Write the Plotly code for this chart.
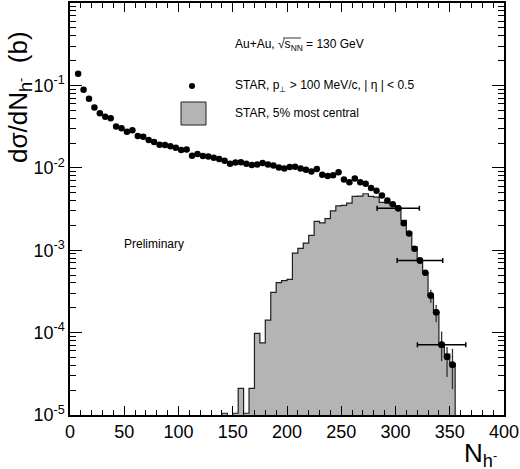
import plotly.graph_objects as go

# ---------------- data ----------------
n_centres = [7.5, 12.5, 17.5, 22.5, 27.5, 32.5, 37.5, 42.5, 47.5, 52.5,
             57.5, 62.5, 67.5, 72.5, 77.5, 82.5, 87.5, 92.5, 97.5, 102.5,
             107.5, 112.5, 117.5, 122.5, 127.5, 132.5, 137.5, 142.5, 147.5, 152.5,
             157.5, 162.5, 167.5, 172.5, 177.5, 182.5, 187.5, 192.5, 197.5, 202.5,
             207.5, 212.5, 217.5, 222.5, 227.5, 232.5, 237.5, 242.5, 247.5, 252.5,
             257.5, 262.5, 267.5, 272.5, 277.5, 282.5, 287.5, 292.5, 297.5, 302.5,
             307.5, 312.5, 317.5, 322.5, 327.5, 332.5, 337.5, 342.5, 347.5, 352.5]
dsig_dn = [0.138, 0.0885, 0.0688, 0.054, 0.046, 0.0416, 0.040, 0.0318, 0.0303, 0.0274,
           0.0285, 0.0243, 0.0238, 0.0217, 0.0205, 0.019, 0.0189, 0.0182, 0.0175, 0.0165,
           0.0167, 0.014, 0.0147, 0.0139, 0.0137, 0.0132, 0.0128, 0.0122, 0.0112, 0.0116,
           0.0117, 0.0112, 0.0108, 0.011, 0.0114, 0.011, 0.0107, 0.0101, 0.00984, 0.0102,
           0.0103, 0.0098, 0.00946, 0.00904, 0.00964, 0.00822, 0.00793, 0.0081, 0.0088, 0.00723,
           0.0067, 0.00743, 0.0067, 0.0064, 0.0057, 0.00526, 0.00462, 0.00402, 0.0036, 0.00324,
           0.00213, 0.0016, 0.00104, 0.00075, 0.000532, 0.000282, 0.000177, 7.1e-5, 5.1e-5, 4.06e-5]

# statistical errors on the tail points
tail_x = [332.5, 337.5, 342.5, 347.5, 352.5]
tail_err_up = [0.48e-4, 0.40e-4, 3.2e-5, 1.6e-5, 2.3e-5]
tail_err_dn = [0.51e-4, 0.43e-4, 2.6e-5, 2.2e-5, 2.0e-5]

# systematic (horizontal) errors
sys_x = [302.5, 322.5, 342.5]
sys_err = [19.5, 21.0, 22.3]

# 5% most central histogram (bin width 5)
hist_left = [140, 145, 150, 155, 160, 165, 170, 175, 180, 185,
             190, 195, 200, 205, 210, 215, 220, 225, 230, 235,
             240, 245, 250, 255, 260, 265, 270, 275, 280, 285,
             290, 295, 300, 305, 310, 315, 320, 325, 330, 335,
             340, 345, 350]
hist_val = [1.05e-5, 0, 1.05e-5, 2.1e-5, 1.05e-5, 2.1e-5, 9.8e-5, 7.5e-5, 1.42e-4, 3.08e-4,
            4.04e-4, 4.27e-4, 4.43e-4, 9.2e-4, 1.05e-3, 1.22e-3, 1.51e-3, 2.24e-3, 2.15e-3, 2.42e-3,
            3.0e-3, 3.45e-3, 3.5e-3, 3.72e-3, 4.5e-3, 4.54e-3, 4.84e-3, 4.5e-3, 4.4e-3, 3.8e-3,
            3.75e-3, 3.55e-3, 3.25e-3, 2.3e-3, 1.66e-3, 1.1e-3, 7.6e-4, 5.3e-4, 2.8e-4, 1.77e-4,
            7.1e-5, 5.5e-5, 4.2e-5]
bin_width = 5

x_ticks = [0, 50, 100, 150, 200, 250, 300, 350, 400]
y_ticks = [1e-5, 1e-4, 1e-3, 1e-2, 1e-1]
y_ticktext = ["10<sup>-5</sup>", "10<sup>-4</sup>", "10<sup>-3</sup>", "10<sup>-2</sup>", "10<sup>-1</sup>"]

# ---------------- figure ----------------
FONT = "Liberation Sans, Arial, Helvetica, sans-serif"
FILL = "#b4b4b4"
W, H = 520, 469
ML, MR, MT, MB = 70, 16, 3, 54
PW, PH = W - ML - MR, H - MT - MB


def px(x):
    return (x - ML) / PW


def py(y):
    return (H - MB - y) / PH


fig = go.Figure()

floor = 1e-7
bar_centres = [l + bin_width / 2 for l in hist_left]
fig.add_trace(go.Bar(
    x=bar_centres, y=[v if v > 0 else floor for v in hist_val],
    width=bin_width, base=floor,
    marker=dict(color=FILL, line=dict(width=0)),
    hoverinfo="skip"))

# step outline
step_x = [hist_left[0]] + hist_left + [hist_left[-1] + bin_width, hist_left[-1] + bin_width]
step_y = [floor] + [v if v > 0 else floor for v in hist_val] + [hist_val[-1], floor]
fig.add_trace(go.Scatter(
    x=step_x, y=step_y, mode="lines",
    line=dict(color="#202020", width=1.2, shape="hv"),
    hoverinfo="skip"))

# data points
fig.add_trace(go.Scatter(
    x=n_centres, y=dsig_dn, mode="markers",
    marker=dict(color="black", size=6.5),
    hoverinfo="skip"))

# tail statistical errors
tail_y = [dsig_dn[n_centres.index(x)] for x in tail_x]
fig.add_trace(go.Scatter(
    x=tail_x, y=tail_y, mode="markers",
    marker=dict(color="black", size=6.5),
    error_y=dict(type="data", symmetric=False, array=tail_err_up, arrayminus=tail_err_dn,
                 color="#303030", thickness=1.3, width=0),
    hoverinfo="skip"))

# systematic horizontal errors
sys_y = [dsig_dn[n_centres.index(x)] for x in sys_x]
fig.add_trace(go.Scatter(
    x=sys_x, y=sys_y, mode="markers",
    marker=dict(color="black", size=6.5),
    error_x=dict(type="data", array=sys_err, color="black", thickness=1.5, width=2.5),
    hoverinfo="skip"))

axis_common = dict(
    showline=True, linecolor="black", linewidth=1.5, mirror="allticks",
    ticks="inside", tickcolor="black", tickwidth=1,
    showgrid=False, zeroline=False, automargin=False,
    tickfont=dict(family=FONT, size=18, color="black"),
)

fig.update_xaxes(
    range=[0, 400], tickmode="array", tickvals=x_ticks, ticklen=9,
    minor=dict(dtick=10, tick0=0, ticks="inside", ticklen=5, tickcolor="black", showgrid=False),
    **axis_common)
fig.update_yaxes(
    type="log", range=[-5, 0], tickmode="array", tickvals=y_ticks, ticktext=y_ticktext,
    ticklen=12,
    minor=dict(dtick="D1", ticks="inside", ticklen=6, tickcolor="black", showgrid=False),
    **axis_common)

ann = []
# axis titles
ann.append(dict(text="dσ/dN<sub>h<sup>-</sup></sub>  (b)", x=px(19), y=py(97), xref="paper", yref="paper",
                textangle=-90, showarrow=False, xanchor="center", yanchor="middle",
                font=dict(family=FONT, size=26, color="black")))
ann.append(dict(text="N<sub>h<sup>-</sup></sub>", x=px(462), y=py(436), xref="paper", yref="paper",
                showarrow=False, xanchor="left", yanchor="top",
                font=dict(family=FONT, size=26, color="black")))
# legend texts
leg_font = dict(family=FONT, size=12, color="black")
ann.append(dict(text="Au+Au, √s<sub>NN</sub> = 130 GeV",
                x=px(233), y=py(45), xref="paper", yref="paper", showarrow=False,
                xanchor="left", yanchor="middle", font=leg_font))
ann.append(dict(text="STAR, p<sub>⊥</sub> &gt; 100 MeV/c, | η | &lt; 0.5",
                x=px(233), y=py(86), xref="paper", yref="paper", showarrow=False,
                xanchor="left", yanchor="middle", font=leg_font))
ann.append(dict(text="STAR, 5% most central",
                x=px(233), y=py(113), xref="paper", yref="paper", showarrow=False,
                xanchor="left", yanchor="middle", font=leg_font))
ann.append(dict(text="Preliminary",
                x=px(122), y=py(244), xref="paper", yref="paper", showarrow=False,
                xanchor="left", yanchor="middle", font=leg_font))

shapes = [
    dict(type="rect", xref="paper", yref="paper", x0=px(181), x1=px(206), y0=py(125), y1=py(102),
         fillcolor=FILL, line=dict(color="#202020", width=1)),
    dict(type="circle", xref="paper", yref="paper", x0=px(189), x1=px(195), y0=py(89), y1=py(83),
         fillcolor="black", line=dict(color="black", width=0)),
    # overline of the square root
    dict(type="line", xref="paper", yref="paper", x0=px(283), x1=px(301), y0=py(38), y1=py(38),
         line=dict(color="black", width=0.8)),
]

fig.update_layout(
    width=W, height=H, margin=dict(l=ML, r=MR, t=MT, b=MB),
    plot_bgcolor="white", paper_bgcolor="white",
    showlegend=False, bargap=0, barmode="overlay",
    annotations=ann, shapes=shapes,
    font=dict(family=FONT, color="black"),
)

fig.write_html("out.html", config={"displayModeBar": False},
               post_script="document.body.style.margin='0';document.body.style.overflow='hidden';")
